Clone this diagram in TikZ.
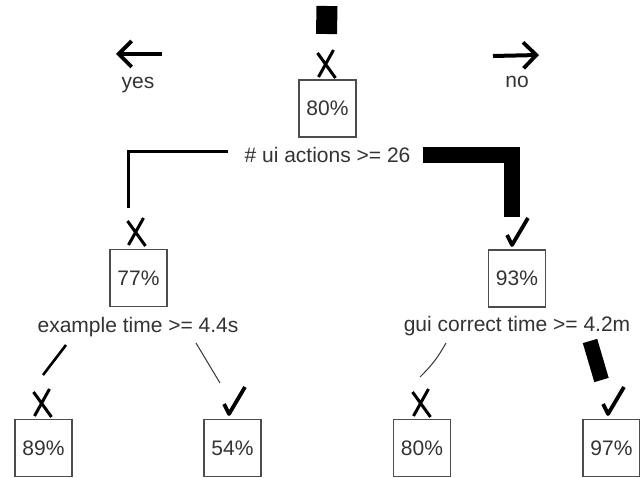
\documentclass[tikz,border=0pt]{standalone}
\usepackage{fontspec}
\setmainfont{Liberation Sans}
\usetikzlibrary{arrows.meta}

\begin{document}
\begin{tikzpicture}[
        x=1pt, y=-1pt,
        every node/.style={font=\fontsize{21}{25}\selectfont, text=black!80},
        box/.style={rectangle, draw=black!70, line width=1.4pt, minimum width=57pt, minimum height=57pt, inner sep=0pt},
        split/.style={inner sep=0pt},
        branch/.style={line width=#1, line cap=butt},
        hint/.style={line width=4pt, -{Straight Barb[length=13pt, width=26pt, line width=3.8pt]}},
        xmark/.pic={\draw[line width=3pt] (7,-14) -- (-8,13) (-9,-11) -- (9,14);},
        cmark/.pic={\draw[line width=3.8pt, line join=round] (-10,3) -- (-5,13) -- (11,-14);}
    ]
        \useasboundingbox (0,0) rectangle (640,478);

        % Nodes
        \node[box] (root) at (327.5,108.5) {80\%};
        \node[split] (rootsplit) at (327.5,155) {\# ui actions >= 26};
        \node[box] (left) at (138.5,278) {77\%};
        \node[split] (leftsplit) at (138,327) {example time >= 4.4s};
        \node[box] (right) at (517,278.5) {93\%};
        \node[split] (rightsplit) at (517,326) {gui correct time >= 4.2m};
        \node[box] (leftleft) at (43.5,448) {89\%};
        \node[box] (leftright) at (232.5,448) {54\%};
        \node[box] (rightleft) at (422,448) {80\%};
        \node[box] (rightright) at (611.5,448) {97\%};

        \node (yes) at (138,85) {yes};
        \node (no) at (517,82) {no};
        \draw[hint] ([xshift=24pt,yshift=31pt]yes.center) -- ++(-46,0);
        \draw[hint] ([xshift=-24pt,yshift=26pt]no.center) -- ++(46,-1);

        % Marks above the boxes
        \pic at (326.5,64) {xmark};
        \pic at (136.5,232) {xmark};
        \pic at (517,232) {cmark};
        \pic at (42.5,403) {xmark};
        \pic at (234,401) {cmark};
        \pic at (421.5,403) {xmark};
        \pic at (613,401) {cmark};

        % Branch ends
        \coordinate (rootin) at (327,6);
        \coordinate (rootend) at (326.5,34);
        \coordinate (lstart) at (228,151.5);
        \coordinate (lend) at (128.5,208);
        \coordinate (rstart) at (423,155);
        \coordinate (rend) at (512,217);
        \coordinate (llstart) at (66,345);
        \coordinate (llend) at (43,375);
        \coordinate (lrstart) at (196,343);
        \coordinate (lrend) at (220,383);
        \coordinate (rlstart) at (446,343);
        \coordinate (rlend) at (420,377);
        \coordinate (rrstart) at (590,341);
        \coordinate (rrend) at (601.5,380);

        % Connectors
        \draw[branch=21pt] (rootin) -- (rootend);
        \draw[branch=3pt] (lstart) -| (lend);
        \draw[branch=16pt, line join=miter] (rstart) -| (rend);
        \draw[branch=2.6pt] (llstart) -- (llend);
        \draw[branch=1pt, black!80] (lrstart) -- (lrend);
        \draw[branch=1pt, black!80] (rlstart) to[bend left=8] (rlend);
        \draw[branch=15pt] (rrstart) -- (rrend);
    \end{tikzpicture}
\end{document}
